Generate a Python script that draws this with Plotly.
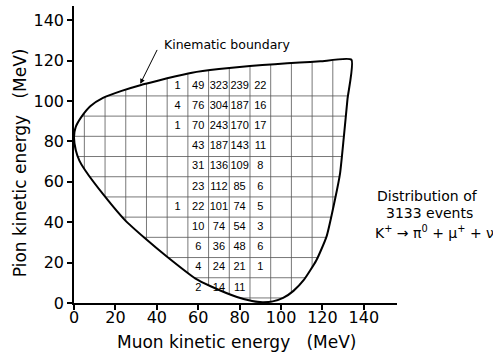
import numpy as np
import plotly.graph_objects as go

# Kinematic boundary (muon KE, pion KE), starting at the top-right corner
boundary_x = [134.0, 119.0, 109.0, 97.0, 85.0, 70.0, 57.0, 45.0, 36.7, 32.0, 23.0, 14.0, 8.0, 3.5, 0.8, 0.0,
              0.9, 2.6, 5.3, 15.0, 24.6, 34.3, 44.8, 58.5, 66.0, 78.7, 86.0, 91.0, 96.0, 101.0, 106.0, 111.0,
              117.0, 122.0, 126.0, 128.5, 130.3, 132.1, 134.0]
boundary_y = [120.4, 119.6, 119.0, 118.2, 117.3, 115.8, 114.0, 111.2, 109.0, 107.8, 105.0, 101.5, 97.5, 92.0,
              87.0, 82.0, 75.5, 70.5, 65.8, 52.6, 41.0, 32.0, 23.0, 12.2, 8.3, 3.0, 1.0, 0.4, 0.8, 2.5, 6.0, 11.4,
              21.0, 33.0, 51.0, 64.2, 82.0, 101.0, 120.4]

# Histogram cells: column centres (muon KE) and row centres (pion KE)
col_centers = [50, 60, 70, 80, 90]
row_centers = [107.5, 97.5, 87.5, 77.5, 67.5, 57.5, 47.5, 37.5, 27.5, 17.5, 7.5]
counts = [
    [1, 49, 323, 239, 22],
    [4, 76, 304, 187, 16],
    [1, 70, 243, 170, 17],
    [None, 43, 187, 143, 11],
    [None, 31, 136, 109, 8],
    [None, 23, 112, 85, 6],
    [1, 22, 101, 74, 5],
    [None, 10, 74, 54, 3],
    [None, 6, 36, 48, 6],
    [None, 4, 24, 21, 1],
    [None, 2, 14, 11, None],
]

# Grid lines of the 10 MeV binning
grid_x = [5, 15, 25, 35, 45, 55, 65, 75, 85, 95, 105, 115, 125]
grid_y = [2.5, 12.5, 22.5, 32.5, 42.5, 52.5, 62.5, 72.5, 82.5, 92.5, 102.5]

tick_vals = [0, 20, 40, 60, 80, 100, 120, 140]

# --- clip grid lines to the boundary polygon ---
px = np.array(boundary_x)
py = np.array(boundary_y)
ex0, ey0 = px, py
ex1, ey1 = np.roll(px, -1), np.roll(py, -1)


def hits_h(c):
    xs = []
    for a, b, c0, d in zip(ex0, ey0, ex1, ey1):
        if (b - c) * (d - c) <= 0 and b != d:
            t = (c - b) / (d - b)
            xs.append(a + t * (c0 - a))
    return min(xs), max(xs)


def hits_v(c):
    ys = []
    for a, b, c0, d in zip(ex0, ey0, ex1, ey1):
        if (a - c) * (c0 - c) <= 0 and a != c0:
            t = (c - a) / (c0 - a)
            ys.append(b + t * (d - b))
    return min(ys), max(ys)


gx, gy = [], []
for c in grid_y:
    lo, hi = hits_h(c)
    gx += [lo, hi, None]
    gy += [c, c, None]
for c in grid_x:
    lo, hi = hits_v(c)
    gx += [c, c, None]
    gy += [lo, hi, None]

fig = go.Figure()
fig.add_trace(go.Scatter(x=gx, y=gy, mode="lines", line=dict(color="#555555", width=0.8),
                         hoverinfo="skip", showlegend=False))
fig.add_trace(go.Scatter(x=boundary_x, y=boundary_y, mode="lines",
                         line=dict(color="black", width=2, shape="spline", smoothing=0.5),
                         showlegend=False))

tx, ty, tt = [], [], []
for r, row in zip(row_centers, counts):
    for c, v in zip(col_centers, row):
        if v is not None:
            tx.append(c)
            ty.append(r)
            tt.append(str(v))
fig.add_trace(go.Scatter(x=tx, y=ty, text=tt, mode="text",
                         textfont=dict(family="Liberation Sans Narrow, Liberation Sans, sans-serif",
                                       size=11, color="black"),
                         showlegend=False))

axis_common = dict(showgrid=False, zeroline=False, showline=True, linecolor="black", linewidth=1.5,
                   ticks="outside", ticklen=5, tickwidth=1.5, tickcolor="black",
                   tickvals=tick_vals, tickfont=dict(family="DejaVu Sans", size=16, color="black"))

txt_font = dict(family="DejaVu Sans", size=14, color="black")

fig.update_layout(
    width=493, height=354,
    margin=dict(l=74, r=96, t=6, b=51),
    paper_bgcolor="white", plot_bgcolor="white",
    xaxis=dict(range=[0, 156], ticklabelstandoff=-6, **axis_common),
    yaxis=dict(range=[0, 147], **axis_common),
    annotations=[
        dict(text="Pion kinetic energy   (MeV)", xref="paper", yref="paper", x=-0.167, y=0.471,
             xanchor="center", yanchor="middle",
             textangle=-90, showarrow=False, font=dict(family="DejaVu Sans", size=17, color="black")),
        dict(text="Muon kinetic energy   (MeV)", xref="paper", yref="paper", x=0.503, y=-0.131,
             xanchor="center", yanchor="middle",
             showarrow=False, font=dict(family="DejaVu Sans", size=17, color="black")),
        dict(text="Kinematic boundary", xref="x", yref="y", x=74, y=127.7, showarrow=False,
             xanchor="center", yanchor="middle",
             font=dict(family="DejaVu Sans", size=12.5, color="black")),
        dict(text="", xref="x", yref="y", x=32, y=108.5, ax=40.5, ay=126, axref="x", ayref="y",
             showarrow=True, arrowhead=2, arrowsize=1, arrowwidth=1, arrowcolor="black"),
        dict(text="Distribution of", xref="paper", yref="paper", x=1.093, y=0.359, showarrow=False,
             xanchor="center", yanchor="middle", font=txt_font),
        dict(text="3133 events", xref="paper", yref="paper", x=1.102, y=0.302, showarrow=False,
             xanchor="center", yanchor="middle", font=txt_font),
        dict(text="K<sup>+</sup> → π<sup>0</sup> + μ<sup>+</sup> + ν", xref="paper", yref="paper",
             x=1.115, y=0.240, showarrow=False, xanchor="center", yanchor="middle",
             font=dict(family="DejaVu Sans", size=14, color="black")),
    ],
)

fig.write_html("out.html")
